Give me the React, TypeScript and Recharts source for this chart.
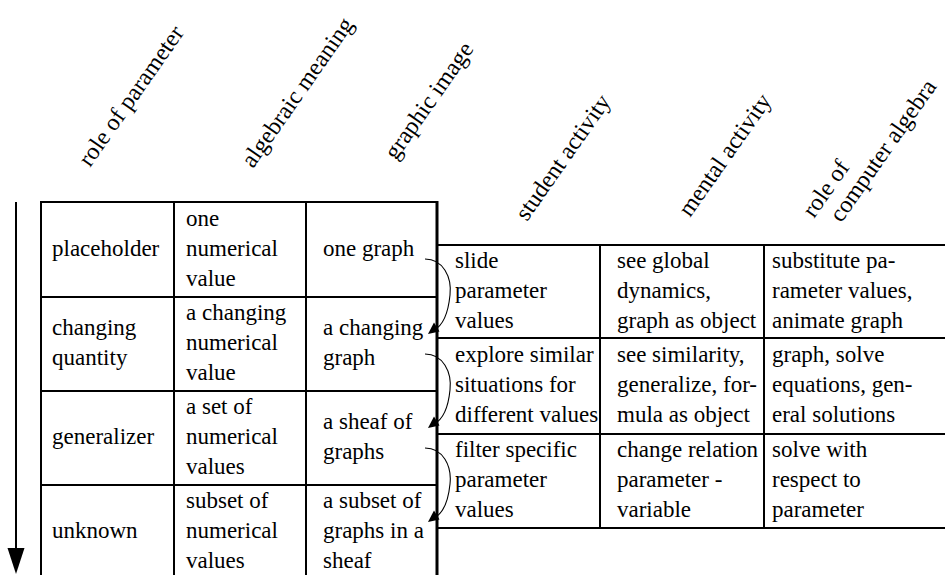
import { ScatterChart, Scatter, XAxis, YAxis, ReferenceLine, ReferenceDot } from "recharts";

// header texts (rotated)
const parameterHeaders = ["role of parameter", "algebraic meaning", "graphic image"];
const activityHeaders = ["student activity", "mental activity", "role of\ncomputer algebra"];

// left table
const roles = ["placeholder", "changing\nquantity", "generalizer", "unknown"];
const algebraicMeaning = [
  "one\nnumerical\nvalue",
  "a changing\nnumerical\nvalue",
  "a set of\nnumerical\nvalues",
  "subset of\nnumerical\nvalues",
];
const graphicImage = ["one graph", "a changing\ngraph", "a sheaf of\ngraphs", "a subset of\ngraphs in a\nsheaf"];

// right table
const studentActivity = [
  "slide\nparameter\nvalues",
  "explore similar\nsituations for\ndifferent values",
  "filter specific\nparameter\nvalues",
];
const mentalActivity = [
  "see global\ndynamics,\ngraph as object",
  "see similarity,\ngeneralize, for-\nmula as object",
  "change relation\nparameter -\nvariable",
];
const computerAlgebra = [
  "substitute pa-\nrameter values,\nanimate graph",
  "graph, solve\nequations, gen-\neral solutions",
  "solve with\nrespect to\nparameter",
];

// layout (pixels == data units, domain is 0..945 x 0..575)
const W = 945;
const H = 575;
const LEFT_COLS = [41, 174, 306, 437];
const LEFT_ROWS = [202, 297, 391, 485, 578];
const LEFT_TEXT_X = [52, 186, 323];
const RIGHT_COLS = [437, 600, 764, W];
const RIGHT_ROWS = [245, 338, 434, 528];
const RIGHT_TEXT_X = [455, 617, 772];
const HEADER_POS = [
  [90, 168],
  [253, 169],
  [396, 161],
  [527, 222],
  [690, 218],
  [814, 219],
];
const FONT = "serif";
const LINE_H = 30;

const leftCols = [roles, algebraicMeaning, graphicImage];
const rightCols = [studentActivity, mentalActivity, computerAlgebra];

const cells = [
  ...leftCols.flatMap((col, c) =>
    col.map((t, r) => ({ x: LEFT_TEXT_X[c], y: (LEFT_ROWS[r] + LEFT_ROWS[r + 1]) / 2, text: t }))
  ),
  ...rightCols.flatMap((col, c) =>
    col.map((t, r) => ({ x: RIGHT_TEXT_X[c], y: (RIGHT_ROWS[r] + RIGHT_ROWS[r + 1]) / 2, text: t }))
  ),
];

const headers = [...parameterHeaders, ...activityHeaders].map((t, i) => ({
  x: HEADER_POS[i][0],
  y: HEADER_POS[i][1],
  text: t,
}));

// curved arrows in the graphic image column, from row r to row r+1
const arrows = [0, 1, 2].map((r) => ({ x: 425, y: LEFT_ROWS[r] + 57, yEnd: LEFT_ROWS[r + 1] + 37 }));

const CellText = (props: any) => {
  const { cx, cy, payload } = props;
  const lines = String(payload.text).split("\n");
  const n = lines.length;
  return (
    <g>
      {lines.map((l, i) => (
        <text key={i} x={cx} y={cy + (i - (n - 1) / 2) * LINE_H + 6} fontFamily={FONT} fontSize={23} fill="#000">
          {l}
        </text>
      ))}
    </g>
  );
};

const HeaderText = (props: any) => {
  const { cx, cy, payload } = props;
  const lines = String(payload.text).split("\n");
  return (
    <g transform={`rotate(-55 ${cx} ${cy})`}>
      {lines.map((l, i) => (
        <text key={i} x={cx + i * 12} y={cy + i * 25} fontFamily={FONT} fontSize={24} fill="#000">
          {l}
        </text>
      ))}
    </g>
  );
};

const CurvedArrow = (props: any) => {
  const { cx, cy, payload } = props;
  const ty = cy + (payload.yEnd - payload.y);
  const tx = cx + 3;
  const d = `M ${cx} ${cy} C ${cx + 18} ${cy} ${cx + 27} ${cy + 18} ${cx + 25} ${cy + 36} C ${cx + 23} ${cy + 56} ${tx + 14} ${ty - 8} ${tx + 6} ${ty - 4}`;
  const head = `${tx},${ty} ${tx + 11.5},${ty - 2.5} ${tx + 6},${ty - 11.5}`;
  return (
    <g>
      <path d={d} fill="none" stroke="#000" strokeWidth={1.1} />
      <polygon points={head} fill="#000" />
    </g>
  );
};

const DownHead = (props: any) => {
  const { cx, cy } = props;
  return <polygon points={`${cx - 8.5},${cy - 13} ${cx + 8.5},${cy - 13} ${cx},${cy + 13}`} fill="#000" />;
};

const seg = (x1: number, y1: number, x2: number, y2: number) => [
  { x: x1, y: y1 },
  { x: x2, y: y2 },
];

export default function App() {
  const lines: { s: any; w: number }[] = [];
  // left table
  LEFT_ROWS.slice(0, 4).forEach((y) => lines.push({ s: seg(LEFT_COLS[0], y, LEFT_COLS[3], y), w: 2 }));
  LEFT_COLS.slice(0, 3).forEach((x) => lines.push({ s: seg(x, LEFT_ROWS[0] - 1, x, H), w: 2 }));
  lines.push({ s: seg(LEFT_COLS[3], LEFT_ROWS[0] - 1, LEFT_COLS[3], H), w: 3 });
  // right table
  RIGHT_ROWS.forEach((y) => lines.push({ s: seg(RIGHT_COLS[0], y, RIGHT_COLS[3], y), w: 2 }));
  RIGHT_COLS.slice(1, 3).forEach((x) => lines.push({ s: seg(x, RIGHT_ROWS[0], x, RIGHT_ROWS[3]), w: 2 }));
  // big downward arrow
  lines.push({ s: seg(16, LEFT_ROWS[0], 16, 550), w: 2 });

  return (
    <div style={{ width: W, height: H, background: "#fff" }}>
      <style>{`body{margin:0}`}</style>
      <ScatterChart width={W} height={H} margin={{ top: 0, right: 0, bottom: 0, left: 0 }}>
        <XAxis type="number" dataKey="x" domain={[0, W]} allowDataOverflow hide />
        <YAxis type="number" dataKey="y" domain={[0, H]} allowDataOverflow reversed hide />
        {lines.map((l, i) => (
          <ReferenceLine key={i} segment={l.s} stroke="#000" strokeWidth={l.w} ifOverflow="visible" />
        ))}
        <ReferenceDot x={16} y={561} shape={DownHead} ifOverflow="visible" />
        <Scatter data={cells} shape={CellText} isAnimationActive={false} />
        <Scatter data={headers} shape={HeaderText} isAnimationActive={false} />
        <Scatter data={arrows} shape={CurvedArrow} isAnimationActive={false} />
      </ScatterChart>
    </div>
  );
}
